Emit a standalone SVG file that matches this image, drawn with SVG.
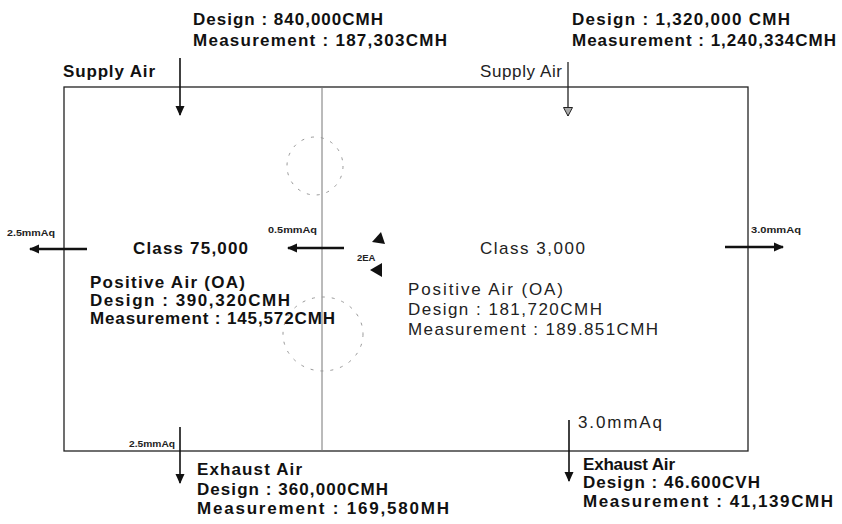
<svg xmlns="http://www.w3.org/2000/svg" width="842" height="524" viewBox="0 0 842 524">
<style>
.b{font-family:"Liberation Sans",Arial,sans-serif;font-weight:bold;font-size:17px;fill:#111}
.r{font-family:"Liberation Sans",Arial,sans-serif;font-size:17px;fill:#222}
.s{font-family:"Liberation Sans",Arial,sans-serif;font-weight:bold;font-size:9.5px;fill:#222}
.wall{stroke:#222;stroke-width:1.3;fill:none}
.div{stroke:#777;stroke-width:1;fill:none}
.arr{stroke:#111;stroke-width:1.6;fill:none}
.harr{stroke:#111;stroke-width:2.4;fill:none}
.dash{stroke:#999;stroke-width:1;fill:none;stroke-dasharray:3 7}
</style>
<defs>
<marker id="ah" markerWidth="10" markerHeight="10" refX="9" refY="5" orient="auto" markerUnits="userSpaceOnUse">
<path d="M0,0.5 L10,5 L0,9.5 Z" fill="#111"/>
</marker>
<marker id="ah2" markerWidth="10" markerHeight="10" refX="9" refY="5" orient="auto" markerUnits="userSpaceOnUse">
<path d="M0.5,0.5 L9,5 L0.5,9.5 Z" fill="#aaa" stroke="#222" stroke-width="1"/>
</marker>
</defs>

<g id="room-walls">
<rect x="64" y="87" width="684" height="364" class="wall"/>
<line x1="322" y1="87" x2="322" y2="451" class="div"/>
<ellipse cx="315" cy="166" rx="28" ry="29" class="dash"/>
<ellipse cx="323" cy="334" rx="40" ry="37" class="dash"/>
</g>

<g id="connectors">
<line x1="180" y1="58" x2="180" y2="115" class="arr" marker-end="url(#ah)"/>
<line x1="568" y1="62" x2="568" y2="116" stroke="#222" stroke-width="1.3" marker-end="url(#ah2)"/>
<line x1="87" y1="249" x2="30" y2="249" class="harr" marker-end="url(#ah)"/>
<line x1="344" y1="248" x2="288" y2="248" class="harr" marker-end="url(#ah)"/>
<line x1="725" y1="247" x2="783" y2="247" class="harr" marker-end="url(#ah)"/>
<line x1="180" y1="427" x2="180" y2="483" class="arr" marker-end="url(#ah)"/>
<line x1="569" y1="420" x2="569" y2="481" class="arr" marker-end="url(#ah)"/>
<path d="M372,242 L385,244 L381,232 Z" fill="#111"/>
<path d="M370,270 L382,263 L382,277 Z" fill="#111"/>
</g>

<g id="supply-left">
<text x="193" y="25" class="b" font-size="18" textLength="190" lengthAdjust="spacing">Design : 840,000CMH</text>
<text x="193" y="46" class="b" font-size="18" textLength="254" lengthAdjust="spacing">Measurement : 187,303CMH</text>
<text x="63" y="77" class="b" font-size="18" textLength="92" lengthAdjust="spacing">Supply Air</text>
</g>

<g id="supply-right">
<text x="572" y="25" class="b" font-size="18" textLength="218" lengthAdjust="spacing">Design : 1,320,000 CMH</text>
<text x="572" y="46" class="b" font-size="18" textLength="264" lengthAdjust="spacing">Measurement : 1,240,334CMH</text>
<text x="480" y="77" class="r" textLength="82" lengthAdjust="spacing">Supply Air</text>
</g>

<g id="class-75000">
<text x="133" y="254" class="b" font-size="18" textLength="115" lengthAdjust="spacing">Class 75,000</text>
<text x="90" y="288" class="b" textLength="155" lengthAdjust="spacing">Positive Air (OA)</text>
<text x="90" y="306" class="b" textLength="200" lengthAdjust="spacing">Design : 390,320CMH</text>
<text x="90" y="324" class="b" textLength="245" lengthAdjust="spacing">Measurement : 145,572CMH</text>
</g>

<g id="class-3000">
<text x="480" y="254" class="r" font-size="18" textLength="105" lengthAdjust="spacing">Class 3,000</text>
<text x="408" y="295" class="r" textLength="155" lengthAdjust="spacing">Positive Air (OA)</text>
<text x="408" y="315" class="r" textLength="194" lengthAdjust="spacing">Design : 181,720CMH</text>
<text x="408" y="335" class="r" textLength="250" lengthAdjust="spacing">Measurement : 189.851CMH</text>
</g>

<g id="pressure-labels">
<text x="7" y="236" class="s" textLength="48" lengthAdjust="spacingAndGlyphs">2.5mmAq</text>
<text x="268" y="233" class="s" textLength="49" lengthAdjust="spacingAndGlyphs">0.5mmAq</text>
<text x="751" y="233" class="s" textLength="50" lengthAdjust="spacingAndGlyphs">3.0mmAq</text>
<text x="129" y="447" class="s" textLength="46" lengthAdjust="spacingAndGlyphs">2.5mmAq</text>
<text x="357" y="261" class="s" font-size="6" font-weight="normal" fill="#888">2EA</text>
</g>

<g id="exhaust-left">
<text x="197" y="475" class="b" textLength="105" lengthAdjust="spacing">Exhaust Air</text>
<text x="197" y="495" class="b" textLength="191" lengthAdjust="spacing">Design : 360,000CMH</text>
<text x="197" y="514" class="b" textLength="252" lengthAdjust="spacing">Measurement : 169,580MH</text>
</g>

<g id="exhaust-right">
<text x="578" y="428" class="r" textLength="84" lengthAdjust="spacing">3.0mmAq</text>
<text x="583" y="470" class="b" font-size="16" textLength="92" lengthAdjust="spacing">Exhaust Air</text>
<text x="583" y="488" class="b" textLength="177" lengthAdjust="spacing">Design : 46.600CVH</text>
<text x="583" y="507" class="b" textLength="250" lengthAdjust="spacing">Measurement : 41,139CMH</text>
</g>
</svg>
